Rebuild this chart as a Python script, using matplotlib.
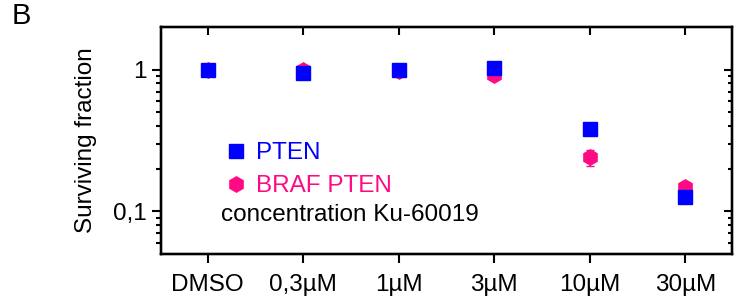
import matplotlib.pyplot as plt
from matplotlib.lines import Line2D
import numpy as np

plt.rcParams['font.family'] = ['Liberation Sans', 'DejaVu Sans']

# Data
conc_labels = ["DMSO", "0,3µM", "1µM", "3µM", "10µM", "30µM"]
pten = [1.00, 0.95, 1.00, 1.02, 0.38, 0.126]
pten_err = [0.03, 0.03, 0.03, 0.04, 0.015, 0.01]
braf_pten = [1.00, 1.00, 0.98, 0.91, 0.24, 0.149]
braf_pten_err = [0.03, 0.05, 0.03, 0.03, 0.032, 0.012]

blue = "#0000FF"
pink = "#FF0A84"

x = np.arange(len(conc_labels))

fig = plt.figure(figsize=(7.44, 2.98), dpi=100)
ax = fig.add_axes([0.2164, 0.1477, 0.9839 - 0.2164, 0.9094 - 0.1477])

ax.errorbar(x, braf_pten, yerr=braf_pten_err, fmt='h', color=pink, ms=11,
            mec=pink, elinewidth=1.2, capsize=3, zorder=3)
ax.errorbar(x, pten, yerr=pten_err, fmt='s', color=blue, ms=10,
            mec=blue, elinewidth=1.2, capsize=3, zorder=4)

ax.set_yscale('log')
ax.set_ylim(0.05, 2)
ax.set_xlim(-0.49, 5.49)
minor_y = [0.06, 0.07, 0.08, 0.09] + [i / 10 for i in range(2, 10)]
ax.set_yticks([0.1, 1])
ax.set_yticklabels(["0,1", "1"])
ax.set_yticks(minor_y, minor=True)
ax.set_xticks(x)
ax.set_xticklabels(conc_labels)
ax.set_ylabel("Surviving fraction", fontsize=17.5, labelpad=12)

for s in ax.spines.values():
    s.set_linewidth(1.6)
ax.tick_params(axis='both', which='major', labelsize=17.5, width=1.5, length=6.5, direction='out')
ax.tick_params(axis='y', which='minor', width=1.5, length=3.5, direction='out')
ax.tick_params(axis='x', pad=8)

# right and top ticks point inward
ax_r = ax.twinx()
ax_r.set_yscale('log')
ax_r.set_ylim(ax.get_ylim())
ax_r.set_yticks([0.1, 1])
ax_r.set_yticks(minor_y, minor=True)
ax_r.tick_params(axis='y', which='major', direction='in', length=6, width=1.5, labelright=False)
ax_r.tick_params(axis='y', which='minor', direction='in', length=3, width=1.5)
ax_t = ax.twiny()
ax_t.set_xlim(ax.get_xlim())
ax_t.set_xticks(x)
ax_t.tick_params(axis='x', direction='in', length=6, width=1.5, labeltop=False)
for a in (ax_r, ax_t):
    for s in a.spines.values():
        s.set_linewidth(1.6)

handles = [Line2D([], [], ls='none', marker='s', ms=10, color=blue),
           Line2D([], [], ls='none', marker='h', ms=11, color=pink)]
leg = ax_t.legend(handles, ["PTEN", "BRAF PTEN"], loc='upper left', bbox_to_anchor=(0.088, 0.545),
                  frameon=False, fontsize=17.5, handletextpad=0.35, handlelength=1.0,
                  labelspacing=0.45, borderpad=0, labelcolor='linecolor')
ax_t.text(0.105, 0.17, "concentration Ku-60019", transform=ax.transAxes,
          fontsize=17.5, va='center', ha='left')

fig.text(0.016, 0.92, "B", fontsize=21)

fig.savefig("out.png", dpi=100)
